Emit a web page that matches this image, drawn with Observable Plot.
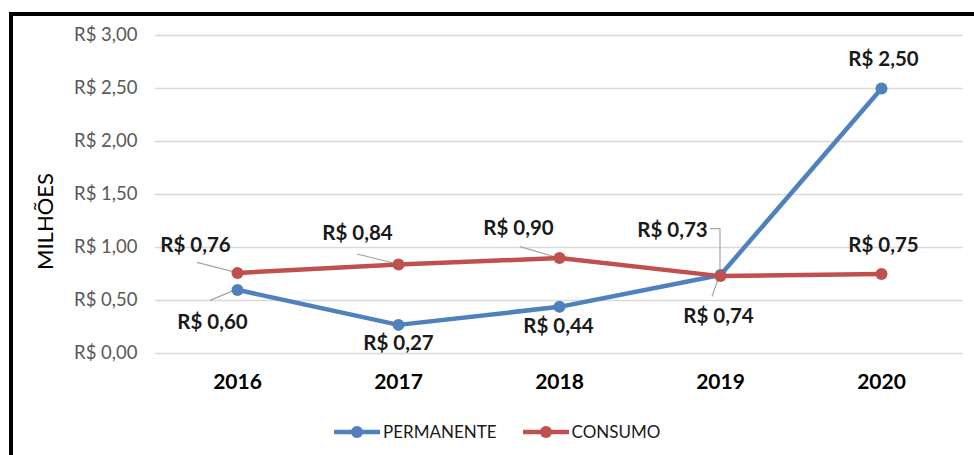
<!DOCTYPE html>
<html><head><meta charset="utf-8">
<script src="https://cdn.jsdelivr.net/npm/d3@7"></script>
<script src="https://cdn.jsdelivr.net/npm/@observablehq/plot@0.6"></script>
<style>
body{margin:0;background:#fff;font-family:Lato,"Open Sans",sans-serif;}
#wrap{position:relative;width:974px;height:455px;overflow:hidden;background:#fff;}
#frame{position:absolute;left:9px;top:12px;width:980px;height:460px;border-top:4px solid #000;border-left:4px solid #000;}
#chart{position:absolute;left:0;top:0;}
#legend{position:absolute;top:421px;left:334px;display:flex;align-items:center;font-size:17px;color:#1a1a1a;}
#legend .item{display:flex;align-items:center;margin-right:26px;}
#legend svg{display:block;margin-right:3px;}
</style></head>
<body>
<div id="wrap"><div id="frame"></div><div id="chart"></div><div id="legend"></div></div>
<script>
const years = ["2016","2017","2018","2019","2020"];
const permanente = [0.60, 0.27, 0.44, 0.74, 2.50];
const consumo = [0.76, 0.84, 0.90, 0.73, 0.75];
const seriesNames = ["PERMANENTE", "CONSUMO"];
const seriesColors = ["#4F81BD", "#C0504D"];
const yTicks = [0, 0.5, 1, 1.5, 2, 2.5, 3];
const yTitle = "MILHÕES";

// label placement (pixel offsets from each point) – layout only
const permLabelOffset = [[-25,33],[0,19],[-1,20],[-2,41],[2,-29]];
const consLabelOffset = [[-42,-28],[-41,-31],[-41,-30],[-48,-46],[2,-29]];
const permLeader = [[[-27,11],[-3,1]], null, null, [[-8,22],[-1,2]], null];
const consLeader = [[[-40,-10],[-5,-1]], [[-41,-10],[-5,-1]], [[-39,-11],[-5,-1]], [[-10,-47],[0,-47],[0,-3]], null];

const fmt = v => "R$ " + v.toFixed(2).replace(".", ",");

const rows = [];
years.forEach((y,i) => {
  rows.push({year:y, value:permanente[i], series:seriesNames[0]});
  rows.push({year:y, value:consumo[i], series:seriesNames[1]});
});

const labelMarks = [];
[[permanente, permLabelOffset], [consumo, consLabelOffset]].forEach(([vals, offs]) => {
  vals.forEach((v,i) => {
    labelMarks.push(Plot.text([{year:years[i], value:v}], {
      x:"year", y:"value", text: d => fmt(d.value), dx: offs[i][0], dy: offs[i][1],
      fontWeight:"bold", fontSize:20.5, fill:"#1a1a1a"
    }));
  });
});

function leaders(index, scales) {
  const g = d3.create("svg:g").attr("fill","none").attr("stroke","#a6a6a6").attr("stroke-width",1.2);
  [[permanente, permLeader], [consumo, consLeader]].forEach(([vals, lead]) => {
    vals.forEach((v,i) => {
      if (!lead[i]) return;
      const px = scales.x(years[i]), py = scales.y(v);
      g.append("polyline").attr("points", lead[i].map(([dx,dy]) => `${px+dx},${py+dy}`).join(" "));
    });
  });
  return g.node();
}

const chart = Plot.plot({
  width: 974,
  height: 405,
  marginTop: 35,
  marginBottom: 52,
  marginLeft: 155,
  marginRight: 11,
  style: {fontFamily: "Lato, 'Open Sans', sans-serif", fontSize: "17px", background: "transparent"},
  x: {type: "point", domain: years, padding: 0.5, label: null},
  y: {domain: [0, 3], label: null},
  color: {domain: seriesNames, range: seriesColors},
  marks: [
    Plot.gridY(yTicks, {stroke: "#d9d9d9", strokeOpacity: 1, strokeWidth: 1.5}),
    Plot.axisY(yTicks, {tickFormat: fmt, tickSize: 0, tickPadding: 18, fontSize: 18.5, fill: "#595959", label: null}),
    Plot.axisX({tickSize: 0, tickPadding: 21, fontSize: 21, fontWeight: "bold", fill: "#000", label: null}),
    Plot.text([yTitle], {frameAnchor: "left", text: d => d, rotate: -90, textAnchor: "middle", dx: -110, dy: 27, fontSize: 22, fill: "#000"}),
    leaders,
    Plot.line(rows, {x: "year", y: "value", z: "series", stroke: "series", strokeWidth: 4.5}),
    Plot.dot(rows, {x: "year", y: "value", fill: "series", r: 6}),
    ...labelMarks
  ]
});
document.getElementById("chart").appendChild(chart);

const legend = d3.select("#legend");
seriesNames.forEach((name, i) => {
  const it = legend.append("div").attr("class","item");
  const s = it.append("svg").attr("width",46).attr("height",14);
  s.append("line").attr("x1",1).attr("x2",45).attr("y1",7).attr("y2",7).attr("stroke",seriesColors[i]).attr("stroke-width",4.5).attr("stroke-linecap","round");
  s.append("circle").attr("cx",23).attr("cy",7).attr("r",6).attr("fill",seriesColors[i]);
  it.append("span").text(name);
});
</script>
</body></html>
